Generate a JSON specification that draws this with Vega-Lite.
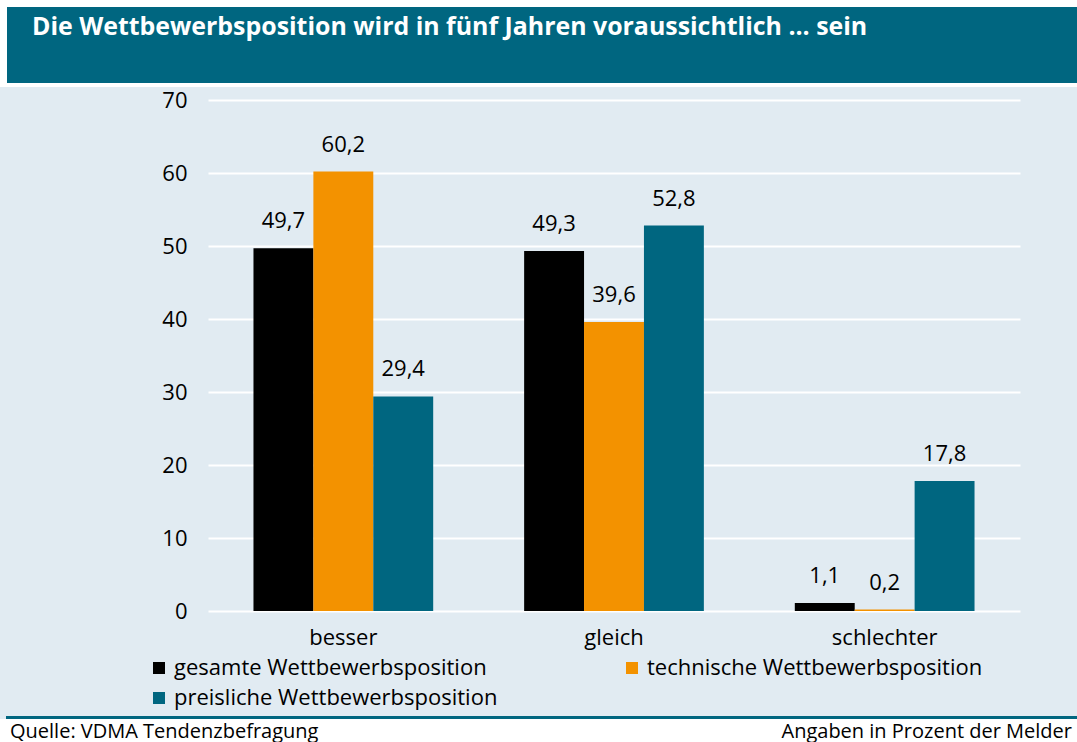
{
  "$schema": "https://vega.github.io/schema/vega-lite/v6.json",
  "background": "#e1ebf2",
  "padding": 0,
  "spacing": 0,
  "config": {
    "font": "Open Sans",
    "view": {"stroke": null},
    "concat": {"spacing": 0},
    "locale": {"number": {"decimal": ",", "thousands": ".", "grouping": [3], "currency": ["", " €"]}}
  },
  "datasets": {
    "bars": [
      {"kategorie": "besser", "serie": "gesamte Wettbewerbsposition", "wert": 49.7},
      {"kategorie": "besser", "serie": "technische Wettbewerbsposition", "wert": 60.2},
      {"kategorie": "besser", "serie": "preisliche Wettbewerbsposition", "wert": 29.4},
      {"kategorie": "gleich", "serie": "gesamte Wettbewerbsposition", "wert": 49.3},
      {"kategorie": "gleich", "serie": "technische Wettbewerbsposition", "wert": 39.6},
      {"kategorie": "gleich", "serie": "preisliche Wettbewerbsposition", "wert": 52.8},
      {"kategorie": "schlechter", "serie": "gesamte Wettbewerbsposition", "wert": 1.1},
      {"kategorie": "schlechter", "serie": "technische Wettbewerbsposition", "wert": 0.2},
      {"kategorie": "schlechter", "serie": "preisliche Wettbewerbsposition", "wert": 17.8}
    ],
    "leer": [],
    "banner": [{"t": "Die Wettbewerbsposition wird in fünf Jahren voraussichtlich ... sein", "pos": 0}],
    "footer": [
      {"text": "Quelle: VDMA Tendenzbefragung", "pos": 0},
      {"text": "Angaben in Prozent der Melder", "pos": 1}
    ]
  },
  "vconcat": [
    {
      "data": {"name": "leer"},
      "mark": {"type": "point"},
      "encoding": {},
      "width": 1077, "height": 7,
      "view": {"fill": "#ffffff", "stroke": null}
    },
    {
      "spacing": 0,
      "hconcat": [
        {
          "data": {"name": "leer"},
          "mark": {"type": "point"},
          "encoding": {},
          "width": 7, "height": 76,
          "view": {"fill": "#ffffff", "stroke": null}
        },
        {
          "data": {"name": "banner"},
          "width": 1070, "height": 76,
          "view": {"fill": "#006680", "stroke": null},
          "mark": {"type": "text", "align": "left", "baseline": "alphabetic", "dx": 25, "dy": -10,
                   "fontSize": 24.9, "fontWeight": "bold", "color": "#ffffff"},
          "encoding": {
            "x": {"field": "pos", "type": "quantitative", "scale": {"domain": [0, 1], "nice": false}, "axis": null},
            "text": {"field": "t", "type": "nominal"}
          }
        }
      ]
    },
    {
      "data": {"name": "leer"},
      "mark": {"type": "point"},
      "encoding": {},
      "width": 1077, "height": 4,
      "view": {"fill": "#ffffff", "stroke": null}
    },
    {
      "data": {"name": "leer"},
      "mark": {"type": "point"},
      "encoding": {},
      "width": 1077, "height": 2
    },
    {
      "spacing": 0,
      "hconcat": [
        {
          "data": {"name": "leer"},
          "mark": {"type": "point"},
          "encoding": {},
          "width": 161, "height": 511
        },
        {
          "data": {"name": "bars"},
          "width": 812, "height": 511,
          "encoding": {
            "x": {
              "field": "kategorie", "type": "nominal",
              "sort": ["besser", "gleich", "schlechter"],
              "scale": {"paddingInner": 0.336, "paddingOuter": 0.168},
              "axis": {"title": null, "labelAngle": 0, "domain": false, "ticks": false, "grid": false,
                       "labelFontSize": 22, "labelPadding": 16, "labelColor": "#000000"}
            },
            "xOffset": {
              "field": "serie", "type": "nominal",
              "sort": ["gesamte Wettbewerbsposition", "technische Wettbewerbsposition", "preisliche Wettbewerbsposition"],
              "scale": {"paddingInner": 0, "paddingOuter": 0}
            },
            "y": {
              "field": "wert", "type": "quantitative",
              "scale": {"domain": [0, 70], "nice": false},
              "axis": {"title": null, "values": [0, 10, 20, 30, 40, 50, 60, 70], "domain": false, "ticks": false,
                       "gridColor": "#ffffff", "gridWidth": 2, "labelFontSize": 22, "labelPadding": 21,
                       "labelColor": "#000000", "minExtent": 47, "maxExtent": 47}
            }
          },
          "layer": [
            {
              "mark": {"type": "bar"},
              "encoding": {
                "color": {
                  "field": "serie", "type": "nominal",
                  "scale": {
                    "domain": ["gesamte Wettbewerbsposition", "preisliche Wettbewerbsposition", "technische Wettbewerbsposition"],
                    "range": ["#000000", "#006680", "#f39200"]
                  },
                  "legend": {
                    "orient": "none", "legendX": 148, "legendY": 657, "columns": 2, "title": null,
                    "symbolType": "square", "symbolSize": 144, "symbolStrokeWidth": 0, "symbolOpacity": 1,
                    "labelFontSize": 22, "labelColor": "#000000", "labelOffset": 4, "labelLimit": 600,
                    "columnPadding": 123, "rowPadding": 8
                  }
                }
              }
            },
            {
              "mark": {"type": "text", "baseline": "bottom", "dy": -15, "fontSize": 22, "color": "#000000"},
              "encoding": {"text": {"field": "wert", "type": "quantitative", "format": ".1f"}}
            }
          ]
        }
      ]
    },
    {
      "data": {"name": "leer"},
      "mark": {"type": "point"},
      "encoding": {},
      "width": 1077, "height": 68
    },
    {
      "spacing": 0,
      "hconcat": [
        {
          "data": {"name": "leer"},
          "mark": {"type": "point"},
          "encoding": {},
          "width": 6, "height": 3
        },
        {
          "data": {"name": "leer"},
          "mark": {"type": "point"},
          "encoding": {},
          "width": 1071, "height": 3,
          "view": {"fill": "#006680", "stroke": null}
        }
      ]
    },
    {
      "data": {"name": "footer"},
      "width": 1077, "height": 24,
      "view": {"fill": "#ffffff", "stroke": null},
      "encoding": {
        "x": {"field": "pos", "type": "quantitative", "scale": {"domain": [0, 1], "nice": false}, "axis": null},
        "text": {"field": "text", "type": "nominal"}
      },
      "layer": [
        {"transform": [{"filter": "datum.pos == 0"}], "mark": {"type": "text", "align": "left", "baseline": "alphabetic", "dx": 10, "dy": 7, "fontSize": 20, "color": "#000000"}},
        {"transform": [{"filter": "datum.pos == 1"}], "mark": {"type": "text", "align": "right", "baseline": "alphabetic", "dx": -5, "dy": 7, "fontSize": 20, "color": "#000000"}}
      ]
    }
  ]
}
